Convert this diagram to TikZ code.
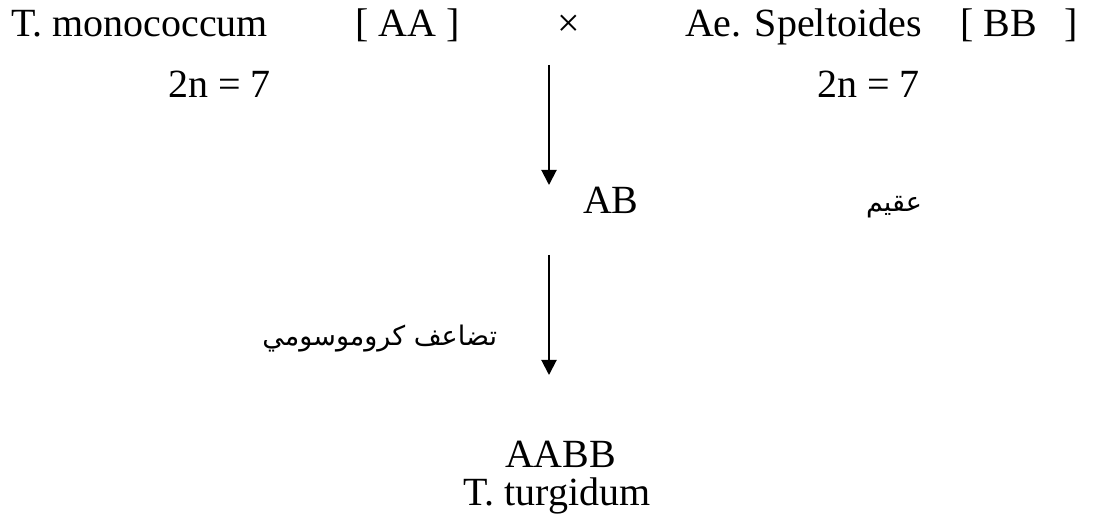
\documentclass[tikz,border=0pt]{standalone}
\usepackage{fontspec}
\setmainfont{Liberation Serif}
\newfontfamily\arabicfont[Script=Arabic]{DejaVu Sans}
\TeXXeTstate=1
\usetikzlibrary{arrows.meta}
\begin{document}
\begin{tikzpicture}[x=1pt,y=-1pt,
  lbl/.style={inner sep=0pt,outer sep=0pt,font=\fontsize{40}{42}\selectfont},
  arlbl/.style={inner sep=0pt,outer sep=0pt,font=\fontsize{27}{30}\selectfont\arabicfont},
  flow/.style={line width=2pt,-{Triangle[width=15pt,length=15pt]}}]
\useasboundingbox (0,0) rectangle (1100,526);
% parents of the cross
\node[lbl,anchor=base west] (mono) at (11,37) {T. monococcum};
\node[lbl,anchor=base west] (aa) at (355,37) {[ AA\hspace{10pt}]};
\node[lbl,anchor=base] (cross) at (569,37) {×};
\node[lbl,anchor=base west] (spelt) at (685,37) {Ae. Speltoides};
\node[lbl,anchor=base west] (bb) at (960,37) {[ BB\hspace{28pt}]};
\node[lbl,anchor=base west] (chrA) at (168,98) {2n = 7};
\node[lbl,anchor=base west] (chrB) at (817,98) {2n = 7};
% hybrid
\node[lbl,anchor=base west] (ab) at (583,214) {AB};
\node[arlbl,anchor=base west] (sterile) at (866,212) {\beginR عقيم\endR};
% doubling step
\node[arlbl,anchor=base east] (doubling) at (497,345) {\beginR تضاعف كروموسومي\endR};
% resulting species
\node[lbl,anchor=base west] (aabb) at (505,467) {AABB};
\node[lbl,anchor=base west] (turg) at (463,505) {T. turgidum};
% arrows
\coordinate (s1) at (549,65);
\coordinate (e1) at (549,185);
\coordinate (s2) at (549,255);
\coordinate (e2) at (549,375);
\draw[flow] (s1) -- (e1);
\draw[flow] (s2) -- (e2);
\end{tikzpicture}
\end{document}
